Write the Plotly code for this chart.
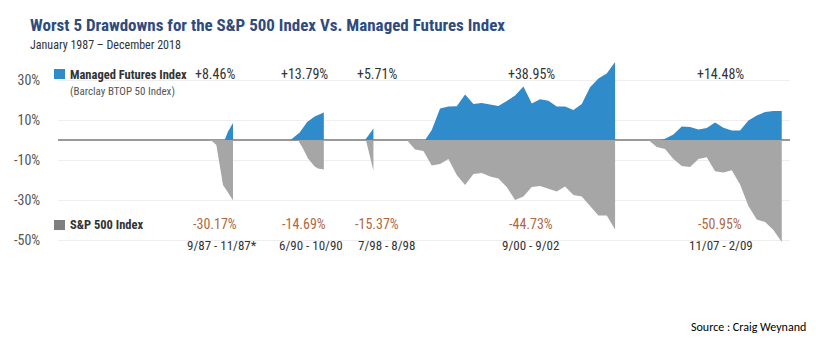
import plotly.graph_objects as go

# ---------------- data ----------------
periods = ["9/87 - 11/87*", "6/90 - 10/90", "7/98 - 8/98", "9/00 - 9/02", "11/07 - 2/09"]
mf_total = ["+8.46%", "+13.79%", "+5.71%", "+38.95%", "+14.48%"]
sp_total = ["-30.17%", "-14.69%", "-15.37%", "-44.73%", "-50.95%"]

# months elapsed inside each drawdown window, cumulative return in %
mf1_month = [2, 2.4, 3]
mf1_ret = [0, 4.2, 8.46]
sp1_month = [0, 0.55, 1, 1.8, 2.2, 3]
sp1_ret = [0, -0.8, -2.5, -22.5, -25, -30.17]

mf2_month = [0, 1.1, 2, 2.9, 4]
mf2_ret = [0, 3.8, 9, 11.7, 13.79]
sp2_month = [0.9, 1.5, 2.1, 2.9, 3.3, 4]
sp2_ret = [0, -4.2, -9.2, -13.2, -14.3, -14.69]

mf3_month = [0, 1]
mf3_ret = [0, 5.71]
sp3_month = [0.1, 1]
sp3_ret = [0, -15.37]

mf4_month = [2.2] + list(range(3, 26))
mf4_ret = [0, 5, 15.8, 16.7, 16.9, 22.8, 18, 18.5, 17.8, 17, 19.5, 22.3, 26.8,
           18.3, 20.4, 19.6, 16.7, 16.7, 15, 18, 26.4, 30.8, 33.3, 38.95]
sp4_month = list(range(0, 26))
sp4_ret = [0, -4.8, -5.5, -12.8, -12, -9.5, -17.5, -22.5, -17, -16.5, -18.3, -19.2,
           -23.5, -30, -28.3, -23.5, -23, -24.2, -25.7, -23.2, -27.5, -28.3, -33,
           -37.7, -37.7, -44.73]

mf5_month = [1.4] + list(range(2, 17))
mf5_ret = [0, 0.6, 2.8, 6.8, 6.5, 5.2, 6, 8.8, 6.1, 4.8, 4.8, 9.8, 12.2, 14, 14.48, 14.48]
sp5_month = list(range(0, 17))
sp5_ret = [0, -3.5, -4.5, -9.5, -13, -13.5, -9.5, -8.6, -15.6, -16.2, -15.1, -22.3,
           -33, -39.7, -41, -45, -50.95]

ytick_vals = [30, 10, -10, -30, -50]
ytick_text = ["30%", "10%", "-10%", "-30%", "-50%"]

# ---------------- layout constants ----------------
episode_start = [18.0, 27.9, 36.85, 41.85, 70.85]   # axis position of each window
label_x = [18.84, 29.52, 38.28, 56.76, 79.44]
date_x = [19.68, 30.36, 39.36, 56.64, 79.56]

BLUE = "#2f8bc9"
GRAY = "#a6a6a6"
COND = "Roboto Condensed, Liberation Sans Narrow, DejaVu Sans Condensed, Roboto, sans-serif"

mf_series = [(mf1_month, mf1_ret), (mf2_month, mf2_ret), (mf3_month, mf3_ret),
             (mf4_month, mf4_ret), (mf5_month, mf5_ret)]
sp_series = [(sp1_month, sp1_ret), (sp2_month, sp2_ret), (sp3_month, sp3_ret),
             (sp4_month, sp4_ret), (sp5_month, sp5_ret)]

fig = go.Figure()
for start, (m, r) in zip(episode_start, sp_series):
    fig.add_trace(go.Scatter(x=[start + v for v in m], y=r, mode="lines",
                             line=dict(width=0, color=GRAY), fill="tozeroy",
                             fillcolor=GRAY, hoverinfo="skip", showlegend=False))
for start, (m, r) in zip(episode_start, mf_series):
    fig.add_trace(go.Scatter(x=[start + v for v in m], y=r, mode="lines",
                             line=dict(width=0, color=BLUE), fill="tozeroy",
                             fillcolor=BLUE, hoverinfo="skip", showlegend=False))

ann = []
for i in range(5):
    ann.append(dict(x=label_x[i], y=33, xref="x", yref="y", text=mf_total[i],
                    showarrow=False, font=dict(family=COND, size=14, color="#333333")))
    ann.append(dict(x=label_x[i], y=-42, xref="x", yref="y", text=sp_total[i],
                    showarrow=False, font=dict(family=COND, size=14, color="#b0683f")))
    ann.append(dict(x=date_x[i], y=-52.5, xref="x", yref="y", text=periods[i],
                    showarrow=False, font=dict(family=COND, size=13, color="#333333")))

ann += [
    dict(x=-0.041, y=1.184, xref="paper", yref="paper", xanchor="left", yanchor="middle",
         text="<b>Worst 5 Drawdowns for the S&P 500 Index Vs. Managed Futures Index</b>",
         showarrow=False, font=dict(family=COND, size=17, color="#2f4b7c")),
    dict(x=-0.041, y=1.079, xref="paper", yref="paper", xanchor="left", yanchor="middle",
         text="January 1987 \u2013 December 2018", showarrow=False,
         font=dict(family=COND, size=12, color="#333333")),
    dict(x=0.0137, y=0.926, xref="paper", yref="paper", xanchor="left", yanchor="middle",
         text="<b>Managed Futures Index</b>", showarrow=False,
         font=dict(family=COND, size=12.5, color="#333333")),
    dict(x=0.0137, y=0.8316, xref="paper", yref="paper", xanchor="left", yanchor="middle",
         text="(Barclay BTOP 50 Index)", showarrow=False,
         font=dict(family=COND, size=11, color="#555555")),
    dict(x=0.0137, y=0.1316, xref="paper", yref="paper", xanchor="left", yanchor="middle",
         text="<b>S&P 500 Index</b>", showarrow=False,
         font=dict(family=COND, size=12.5, color="#333333")),
    dict(x=1.0246, y=-0.405, xref="paper", yref="paper", xanchor="right", yanchor="middle",
         text="Source : Craig Weynand", showarrow=False,
         font=dict(family="Carlito, Calibri, Liberation Sans, sans-serif", size=12, color="#000000")),
]

shapes = [
    dict(type="rect", xref="paper", yref="paper", x0=-0.0055, x1=0.0096, y0=0.9, y1=0.9526,
         fillcolor=BLUE, line=dict(width=0)),
    dict(type="rect", xref="paper", yref="paper", x0=-0.0055, x1=0.0096, y0=0.105, y1=0.158,
         fillcolor="#7f7f7f", line=dict(width=0)),
]

fig.update_layout(
    width=816, height=354,
    margin=dict(l=58, r=26, t=60, b=104),
    paper_bgcolor="white", plot_bgcolor="white",
    annotations=ann, shapes=shapes,
    xaxis=dict(range=[0, 87.84], visible=False, showgrid=False, zeroline=False),
    yaxis=dict(range=[-55, 40], tickvals=ytick_vals, ticktext=ytick_text,
               showgrid=True, gridcolor="#eeeeee", gridwidth=1,
               zeroline=True, zerolinecolor="#999999", zerolinewidth=1.5,
               ticks="outside", ticklen=14, tickcolor="rgba(0,0,0,0)",
               tickfont=dict(family=COND, size=14, color="#555555"),
               showline=False),
)

fig.write_html("out.html")
